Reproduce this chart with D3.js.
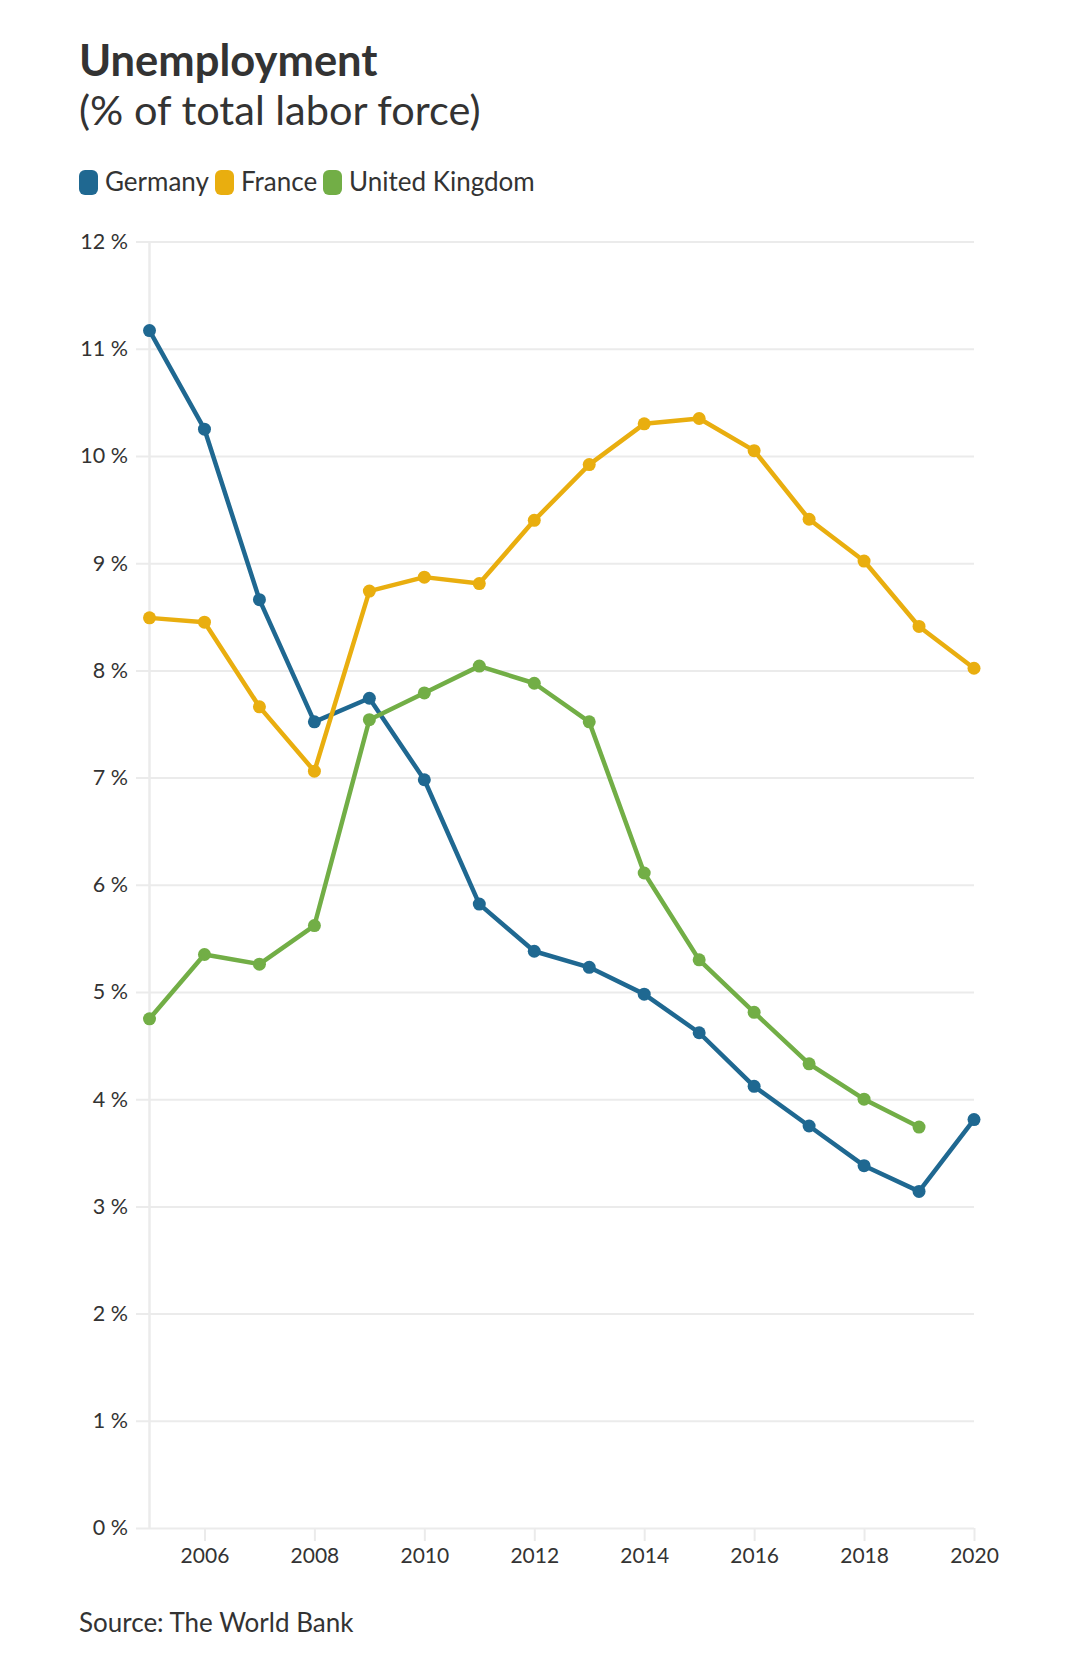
<!DOCTYPE html>
<html><head><meta charset="utf-8">
<script src="https://cdn.jsdelivr.net/npm/d3@7"></script>
<style>
html,body{margin:0;padding:0;background:#fff;}
text{font-family:Lato,"Noto Sans",sans-serif;}
</style></head>
<body><svg id="chart" width="1080" height="1662"></svg>
<script>
const years = [2005,2006,2007,2008,2009,2010,2011,2012,2013,2014,2015,2016,2017,2018,2019,2020];
const germany = [11.17,10.25,8.66,7.52,7.74,6.98,5.82,5.38,5.23,4.98,4.62,4.12,3.75,3.38,3.14,3.81];
const france  = [8.49,8.45,7.66,7.06,8.74,8.87,8.81,9.40,9.92,10.30,10.35,10.05,9.41,9.02,8.41,8.02];
const uk      = [4.75,5.35,5.26,5.62,7.54,7.79,8.04,7.88,7.52,6.11,5.30,4.81,4.33,4.00,3.74,null];
const seriesNames = ["Germany","France","United Kingdom"];
const seriesColors = ["#1f6891","#e9ae0f","#72ae46"];
const yTicks = [0,1,2,3,4,5,6,7,8,9,10,11,12];
const xTicks = [2006,2008,2010,2012,2014,2016,2018,2020];

const svg = d3.select("#chart");
const x = d3.scaleLinear().domain([2005,2020]).range([149.5,974]);
const y = d3.scaleLinear().domain([0,12]).range([1528,241.6]);

// title
svg.append("text").attr("x",79).attr("y",76).attr("font-size",43.5).attr("font-weight",700).attr("fill","#333").text("Unemployment");
svg.append("text").attr("x",79).attr("y",125).attr("font-size",41.5).attr("fill","#333").text("(% of total labor force)");

// legend
const legX = [79,215,323];
seriesNames.forEach((n,i)=>{
  const g = svg.append("g").attr("transform",`translate(${legX[i]},170)`);
  g.append("rect").attr("x",0).attr("y",0).attr("width",19).attr("height",25).attr("rx",6).attr("fill",seriesColors[i]);
  g.append("text").attr("x",26).attr("y",21).attr("font-size",26).attr("fill","#333").text(n);
});

// y axis with gridlines
const yAxis = d3.axisLeft(y).tickValues(yTicks).tickFormat(d=>d+" %").tickSize(-(974-136)).tickPadding(8);
const gy = svg.append("g").attr("transform","translate(136,0)").call(yAxis);
gy.select(".domain").remove();
gy.selectAll(".tick line").attr("stroke","#ebebeb").attr("stroke-width",2);
gy.selectAll(".tick text").attr("font-size",21.5).attr("fill","#333").attr("font-family","Lato, sans-serif");

// vertical axis line
svg.append("line").attr("x1",x(2005)).attr("x2",x(2005)).attr("y1",y(12)).attr("y2",y(0)).attr("stroke","#ebebeb").attr("stroke-width",2.5);

// x axis
const xAxis = d3.axisBottom(x).tickValues(xTicks).tickFormat(d3.format("d")).tickSize(13).tickPadding(7);
const gx = svg.append("g").attr("transform",`translate(0,${y(0)})`).call(xAxis);
gx.select(".domain").remove();
gx.selectAll(".tick line").attr("stroke","#ebebeb").attr("stroke-width",2);
gx.selectAll(".tick text").attr("font-size",21).attr("fill","#333").attr("font-family","Lato, sans-serif");

// lines
const data = [germany,france,uk];
const line = d3.line().defined(d=>d.v!=null).x(d=>x(d.yr)).y(d=>y(d.v));
data.forEach((vals,i)=>{
  const pts = years.map((yr,j)=>({yr,v:vals[j]}));
  svg.append("path").datum(pts).attr("d",line).attr("fill","none").attr("stroke",seriesColors[i]).attr("stroke-width",4.5).attr("stroke-linejoin","round");
  svg.append("g").selectAll("circle").data(pts.filter(d=>d.v!=null)).join("circle")
    .attr("cx",d=>x(d.yr)).attr("cy",d=>y(d.v)).attr("r",6.5).attr("fill",seriesColors[i]);
});

// source
svg.append("text").attr("x",79).attr("y",1632).attr("font-size",26).attr("fill","#333").text("Source: The World Bank");
</script></body></html>
